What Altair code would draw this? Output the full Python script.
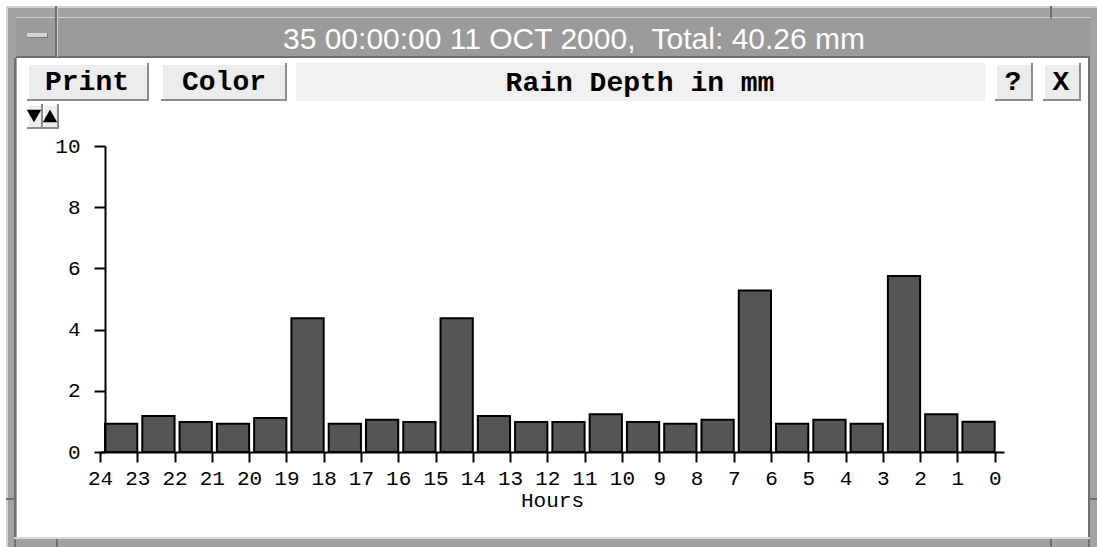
import altair as alt
import pandas as pd

# ---- data: hourly rain depth, hours counted back from the end time ----
hour_start = list(range(24, 0, -1))
hour_end = list(range(23, -1, -1))
rain_mm = [0.92, 1.18, 0.98, 0.92, 1.11, 4.37, 0.92, 1.05, 0.98, 4.37, 1.18, 0.98,
           0.98, 1.23, 0.98, 0.92, 1.05, 5.28, 0.92, 1.05, 0.92, 5.75, 1.23, 0.99]
hour_ticks = list(range(0, 25))
depth_ticks = [0, 2, 4, 6, 8, 10]

station = "35"
end_time = "00:00:00 11 OCT 2000"
total_mm = sum(rain_mm)
window_title = f"{station} {end_time},\u00a0 Total: {total_mm:.2f} mm"
panel_title = "Rain Depth in mm"
x_title = "Hours"

# ---- layout / style ----
W, H = 1097, 547
OX, OY = 100, 146          # plot origin on the canvas
PLOT_W, PLOT_H = 904, 306
BAR_GAP = 0.135            # hours of white space left of each bar
MONO = "Liberation Mono"
SANS = "Liberation Sans"

BLANK = alt.Data(values=[{}])


def box(x0, y0, x1, y1, fill):
    return alt.Chart(BLANK).mark_rect(fill=fill, strokeWidth=0).encode(
        x=alt.value(x0 - OX), x2=alt.value(x1 - OX),
        y=alt.value(y0 - OY), y2=alt.value(y1 - OY))


def button(x0, y0, x1, y1, face="#ececec"):
    return [box(x0, y0, x1, y1, "#8c8c8c"),
            box(x0, y0, x1 - 2, y1 - 2, "#ffffff"),
            box(x0 + 2, y0 + 2, x1 - 2, y1 - 2, face)]


def label(text, cx, cy, size, font, weight="normal", color="black"):
    return alt.Chart(BLANK).mark_text(
        text=text, font=font, fontSize=size, fontWeight=weight, color=color,
        align="center", baseline="middle").encode(
        x=alt.value(cx - OX), y=alt.value(cy - OY))


def arrow(shape, cx, cy):
    return alt.Chart(BLANK).mark_point(
        shape=shape, filled=True, color="black", opacity=1, size=210).encode(
        x=alt.value(cx - OX), y=alt.value(cy - OY))


# ---- window frame ----
chrome = [
    box(6, 6, W, H, "#a2a2a2"),
    box(6, 6, W, 8, "#d2d2d2"),
    box(6, 6, 8, H, "#d2d2d2"),
    box(16, 17, 1090, 18, "#d0d0d0"),
    box(16, 18, 1090, 56, "#9a9a9a"),
    box(16, 56, 1090, 58, "#6e6e6e"),
    box(55, 6, 57, 57, "#6e6e6e"),
    box(57, 6, 58, 57, "#d0d0d0"),
    box(1050, 6, 1052, 18, "#6e6e6e"),
    box(27, 33, 48, 38, "#7a7a7a"),
    box(27, 33, 47, 37, "#d4d4d4"),
    box(14, 58, 16, H, "#707070"),
    box(1088, 58, 1090, H, "#707070"),
    box(17, 58, 1088, 537, "#ffffff"),
    box(14, 537, 1090, 539, "#d8d8d8"),
    box(56, 539, 58, H, "#6e6e6e"),
    box(1050, 539, 1052, H, "#6e6e6e"),
    box(6, 498, 14, 500, "#6e6e6e"),
    box(1090, 498, W, 500, "#6e6e6e"),
    label(window_title, 574, 40, 30, SANS, color="white"),
]
chrome += button(27, 63, 149, 101)
chrome += button(161, 63, 287, 101)
chrome += [box(296, 63, 985, 101, "#f1f1f1")]
chrome += button(995, 63, 1033, 101)
chrome += button(1043, 63, 1081, 101)
chrome += button(27, 104, 43, 129)
chrome += button(43, 104, 59, 129)
chrome += [
    label("Print", 87, 82, 28, MONO, "bold"),
    label("Color", 224, 82, 28, MONO, "bold"),
    label(panel_title, 640, 83, 28, MONO, "bold"),
    label("?", 1013, 82, 28, MONO, "bold"),
    label("X", 1061, 82, 28, MONO, "bold"),
    arrow("triangle-down", 34, 116),
    arrow("triangle-up", 50, 116),
]

# ---- bars ----
df = pd.DataFrame({"hour_start": hour_start, "hour_end": hour_end, "rain": rain_mm})

x_axis = alt.Axis(
    values=hour_ticks, format="d", grid=False, zindex=1,
    labelFont=MONO, labelFontSize=21, labelColor="black", labelPadding=5,
    labelFlush=False, labelOverlap=False,
    tickColor="black", tickSize=10, tickWidth=2,
    domainColor="black", domainWidth=2,
    titleFont=MONO, titleFontSize=21, titleFontWeight="normal",
    titleColor="black", titlePadding=1)

y_axis = alt.Axis(
    values=depth_ticks, format="d", grid=False, zindex=1, offset=-5,
    labelFont=MONO, labelFontSize=21, labelColor="black", labelPadding=14,
    tickColor="black", tickSize=11, tickWidth=2,
    domainColor="black", domainWidth=2, title=None)

bars = alt.Chart(df).transform_calculate(
    bar_left=f"datum.hour_start - {BAR_GAP}"
).mark_bar(fill="#555555", stroke="black", strokeWidth=2).encode(
    x=alt.X("bar_left:Q", title=x_title, axis=x_axis,
            scale=alt.Scale(domain=[-0.25, 24], reverse=True, nice=False,
                            zero=False, padding=0)),
    x2="hour_end:Q",
    y=alt.Y("rain:Q", axis=y_axis,
            scale=alt.Scale(domain=[0, 10], nice=False, zero=True, padding=0)),
    y2=alt.datum(0),
)

chart = alt.layer(*chrome, bars).properties(
    width=PLOT_W, height=PLOT_H,
    autosize="none",
    padding={"left": OX, "top": OY, "right": W - OX - PLOT_W, "bottom": H - OY - PLOT_H},
    background="white",
).configure_view(stroke=None)

chart.save("out.html", embed_options={"renderer": "svg", "actions": False})
